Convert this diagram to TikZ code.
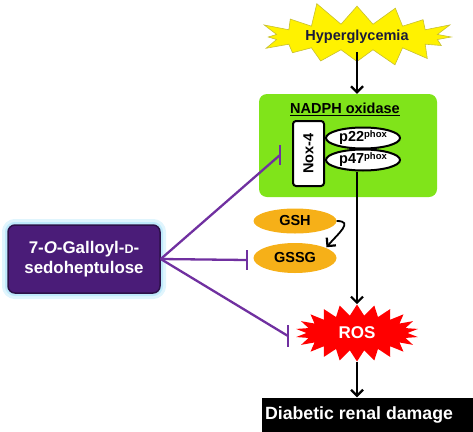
\documentclass[tikz,border=0pt]{standalone}
\usepackage{fontspec}
\setmainfont{Liberation Sans}
\usetikzlibrary{shapes.geometric, shapes.symbols, arrows.meta, positioning}

\definecolor{limegreen}{RGB}{128,228,26}
\definecolor{gshorange}{RGB}{246,176,24}
\definecolor{inhibpurple}{RGB}{112,48,160}
\definecolor{gallopurple}{RGB}{74,28,120}
\definecolor{navytext}{RGB}{27,27,58}

\begin{document}
\begin{tikzpicture}[x=1pt, y=-1pt,
		every node/.style = {font=\bfseries\fontsize{14.5}{17}\selectfont, inner sep=0pt},
		arr/.style = {draw=black, line width=2.2pt,
			-{Straight Barb[length=6pt,width=12pt,line width=2.2pt]}},
		inhib/.style = {draw=inhibpurple, line width=2.3pt},
		oval/.style args = {#1/#2}{%
			ellipse, fill=gshorange,
			minimum width=#1, minimum height=#2},
		phox/.style = {ellipse, draw, line width=2pt, fill=white,
			minimum width=74pt, minimum height=21pt}
                    ]
		\useasboundingbox (0,0) rectangle (473,431);

		% stimulus and end point
		\node(hyper) [starburst, starburst points=16, starburst point height=24pt,
			random starburst=11, fill=yellow, draw=yellow!75!black, line width=0.6pt,
			minimum width=212pt, minimum height=74pt, text=navytext] at (357,37) {Hyperglycemia};
		\node(damage) [fill=black, text=white, font=\bfseries\fontsize{17.7}{20}\selectfont,
			minimum width=211pt, minimum height=34pt] at (367.5,414.5) {\hspace*{-17pt}Diabetic renal damage};

		% NADPH oxidase complex
		\node(nadph) [fill=limegreen, rounded corners=8pt,
			minimum width=178pt, minimum height=103pt] at (348,145.5) {};
		\node(label) at (345,109) {\underline{NADPH oxidase}};
		\node(nox) [draw, line width=2pt, fill=white, rounded corners=3pt, rotate=90,
			minimum width=65pt, minimum height=31pt] at (308.5,153.5) {Nox-4};
		\node(p22) [phox] at (363,138) {p22\raisebox{4pt}{\fontsize{9.5}{10}\selectfont phox}};
		\node(p47) [phox] at (363,160) {p47\raisebox{4pt}{\fontsize{9.5}{10}\selectfont phox}};

		% glutathione
		\node(gsh) [oval=83pt/25pt] at (295,221) {GSH};
		\node(gssg) [oval=83pt/30pt] at (295,258) {GSSG};

		% ROS
		\node(ros) [starburst, starburst points=22, starburst point height=11pt,
			random starburst=0, fill=red, text=white, font=\bfseries\fontsize{17}{20}\selectfont,
			minimum width=123pt, minimum height=57pt] at (357,333) {ROS};

		% compound
		\node(gallo) [fill=gallopurple, draw=gallopurple!60!black, line width=1.5pt,
			rounded corners=7pt, text=white, align=center,
			font=\bfseries\fontsize{16.9}{20}\selectfont,
			preaction={draw=cyan!12, line width=12pt},
			preaction={draw=cyan!25, line width=6pt},
			minimum width=152pt, minimum height=68pt] at (84,259)
			{7-\textit{O}-Galloyl-{\fontsize{12.5}{14}\selectfont D}-\\sedoheptulose};

		% activating steps
		\draw[arr] ([yshift=-15pt]hyper.center) -- (hyper.center |- nadph.north);
		\draw[arr] (ros.north |- p47.south) -- (ros.north);
		\draw[arr] (ros.south) -- (ros.south |- damage.north);
		\draw[arr, line width=1.8pt] (gsh.east) to[out=0, in=50, looseness=1.6] ([xshift=2pt]gssg.north east);

		% inhibition
		\coordinate(noxT) at (280,155);
		\coordinate(gssgT) at (247,260);
		\coordinate(rosT) at (288,336);
		\draw[inhib] (gallo.east) -- (noxT);
		\draw[inhib] (gallo.east) -- (gssgT);
		\draw[inhib] (gallo.east) -- (rosT);
		\draw[inhib] ([yshift=10pt]noxT) -- ([yshift=-10pt]noxT);
		\draw[inhib] ([yshift=10pt]gssgT) -- ([yshift=-10pt]gssgT);
		\draw[inhib] ([yshift=11pt]rosT) -- ([yshift=-11pt]rosT);
	\end{tikzpicture}
\end{document}
